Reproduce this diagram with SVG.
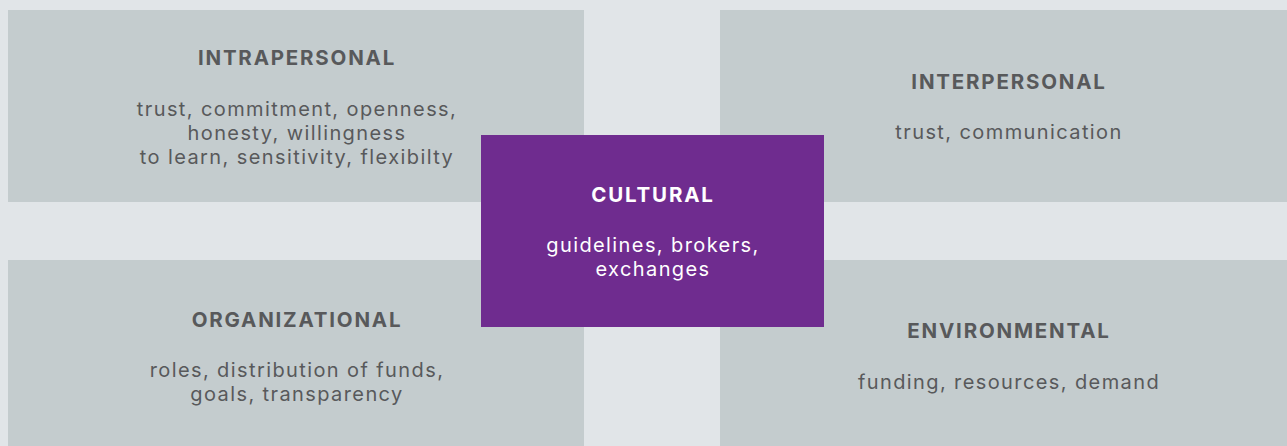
<svg xmlns="http://www.w3.org/2000/svg" width="1287" height="446" viewBox="0 0 1287 446">
<style>
.bg{fill:#e1e5e8}
.box{fill:#c4ccce}
.hub{fill:#6f2c8f}
.t{font-family:Inter,"Open Sans","Liberation Sans",sans-serif;font-size:20.5px;font-weight:700;letter-spacing:1.8px;fill:#58595b;text-anchor:middle}
.b{font-family:Inter,"Open Sans","Liberation Sans",sans-serif;font-size:20px;font-weight:400;letter-spacing:1.4px;fill:#58595b;text-anchor:middle}
.w{fill:#ffffff}
</style>
<rect class="bg" x="0" y="0" width="1287" height="446"/>
<g id="intrapersonal">
<rect class="box" x="8" y="10" width="576" height="192"/>
<text class="t" x="297" y="65">INTRAPERSONAL</text>
<text class="b" x="297" y="116">trust, commitment, openness,</text>
<text class="b" x="297" y="140">honesty, willingness</text>
<text class="b" x="297" y="164">to learn, sensitivity, flexibilty</text>
</g>
<g id="interpersonal">
<rect class="box" x="720" y="10" width="567" height="192"/>
<text class="t" x="1009" y="89">INTERPERSONAL</text>
<text class="b" x="1009" y="139">trust, communication</text>
</g>
<g id="organizational">
<rect class="box" x="8" y="260" width="576" height="186"/>
<text class="t" x="297" y="327">ORGANIZATIONAL</text>
<text class="b" x="297" y="377">roles, distribution of funds,</text>
<text class="b" x="297" y="401">goals, transparency</text>
</g>
<g id="environmental">
<rect class="box" x="720" y="260" width="567" height="186"/>
<text class="t" x="1009" y="338">ENVIRONMENTAL</text>
<text class="b" x="1009" y="389">funding, resources, demand</text>
</g>
<g id="cultural">
<rect class="hub" x="481" y="135" width="343" height="192"/>
<text class="t w" x="653" y="202">CULTURAL</text>
<text class="b w" x="653" y="252">guidelines, brokers,</text>
<text class="b w" x="653" y="276">exchanges</text>
</g>
<g id="connectors"/>
</svg>
